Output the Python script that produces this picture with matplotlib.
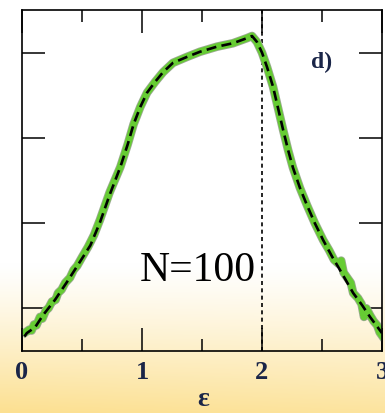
import numpy as np
import matplotlib
matplotlib.use("Agg")
import matplotlib.pyplot as plt
import matplotlib.patheffects as pe

# fitted (dashed) curve
fit_x = [0.02, 0.04, 0.11, 0.175, 0.275, 0.375, 0.48, 0.57, 0.65, 0.73, 0.82, 0.88,
         0.93, 0.985, 1.042, 1.108, 1.175, 1.258, 1.375, 1.483, 1.625, 1.758, 1.875,
         1.917, 1.958, 2.0, 2.042, 2.092, 2.175, 2.217, 2.258, 2.317, 2.375, 2.44,
         2.51, 2.583, 2.65, 2.76, 2.833, 2.90, 3.0]
fit_y = [0.17, 0.21, 0.28, 0.42, 0.60, 0.81, 1.04, 1.24, 1.51, 1.83, 2.16, 2.42,
         2.66, 2.86, 3.03, 3.155, 3.27, 3.38, 3.45, 3.51, 3.57, 3.61, 3.67,
         3.695, 3.625, 3.50, 3.33, 3.10, 2.60, 2.36, 2.15, 1.91, 1.71, 1.50,
         1.30, 1.11, 0.95, 0.68, 0.54, 0.40, 0.21]

# simulation (green) curve
sim_x = [0.03, 0.06, 0.08, 0.10, 0.12, 0.15, 0.17, 0.20, 0.22, 0.25, 0.28, 0.30, 0.33,
         0.36, 0.40, 0.43, 0.46, 0.50, 0.55, 0.60, 0.65, 0.73, 0.82, 0.88,
         0.93, 0.985, 1.042, 1.108, 1.175, 1.258, 1.375, 1.483, 1.625, 1.758, 1.875,
         1.917, 1.958, 2.0, 2.042, 2.092, 2.175, 2.217, 2.258, 2.317, 2.375, 2.44,
         2.51, 2.56, 2.60, 2.64, 2.66, 2.68, 2.71, 2.74, 2.76, 2.80, 2.83,
         2.85, 2.87, 2.90, 2.93, 2.96, 2.98, 3.00]
sim_y = [0.22, 0.25, 0.24, 0.31, 0.30, 0.40, 0.38, 0.48, 0.50, 0.58, 0.60, 0.68, 0.72,
         0.80, 0.86, 0.95, 1.00, 1.10, 1.22, 1.36, 1.54, 1.86, 2.16, 2.42,
         2.66, 2.86, 3.03, 3.155, 3.27, 3.38, 3.45, 3.51, 3.57, 3.61, 3.67,
         3.695, 3.625, 3.50, 3.33, 3.10, 2.60, 2.36, 2.15, 1.91, 1.71, 1.50,
         1.30, 1.18, 1.07, 1.02, 1.06, 0.92, 0.86, 0.80, 0.68, 0.62, 0.55,
         0.40, 0.50, 0.42, 0.35, 0.30, 0.22, 0.18]

x_ticks = [0, 1, 2, 3]
x_ticklabels = ["0", "1", "2", "3"]
x_minor = [0.5, 1.5, 2.5]
y_ticks = [0.5, 1.5, 2.5, 3.5]
eps_c = 2.0

W, H = 385, 413
fig = plt.figure(figsize=(W / 100, H / 100), dpi=100)

# gradient background (white at top, warm yellow at bottom)
bg = fig.add_axes([0, 0, 1, 1], zorder=0)
rows = np.linspace(0, 1, 200)[:, None]          # 0 = bottom, 1 = top
cols = np.linspace(0, 1, 50)[None, :]
t = np.clip((0.36 - rows) / 0.36, 0, 1) ** 1.2
tcol = t * (1.0 - 0.12 * cols)
white = np.array([1.0, 1.0, 1.0])
yellow = np.array([252, 224, 145]) / 255.0
img = white[None, None, :] * (1 - tcol[..., None]) + yellow[None, None, :] * tcol[..., None]
bg.imshow(img, aspect="auto", extent=[0, 1, 0, 1], origin="lower")
bg.set_axis_off()

ax = fig.add_axes([22 / W, (H - 351) / H, 360 / W, 341 / H], zorder=1)
ax.patch.set_alpha(0)

ax.plot(sim_x, sim_y, color="#66cc33", lw=5.0, solid_joinstyle="round",
        path_effects=[pe.Stroke(linewidth=6.2, foreground="#9aaa90"), pe.Normal()], zorder=2)
ax.plot(fit_x, fit_y, color="black", lw=1.9, dashes=(3.8, 2.0), zorder=3)
ax.axvline(eps_c, color="black", lw=1.2, dashes=(2.4, 2.0), zorder=1)

ax.set_xlim(0, 3)
ax.set_ylim(0, 4)
ax.set_xticks(x_ticks)
ax.set_xticklabels(x_ticklabels)
ax.set_xticks(x_minor, minor=True)
ax.set_yticks(y_ticks)
ax.set_yticklabels([])
ax.tick_params(which="major", direction="in", length=16.5, width=1.1,
               top=True, right=True, labelleft=False, pad=7)
ax.tick_params(which="minor", direction="in", length=8.6, width=1.1, top=True, right=False,
               left=False)
for s in ax.spines.values():
    s.set_linewidth(1.2)

for lab in ax.get_xticklabels():
    lab.set_fontfamily("Liberation Serif")
    lab.set_fontweight("bold")
    lab.set_fontsize(19)
    lab.set_color("#1a2548")

fig.text(203 / W, 1 - 399 / H, "ε", fontfamily="Liberation Serif", fontweight="bold",
         fontsize=20, color="#1a2548", ha="center", va="center")

ax.text(1.0 + (200 - 144) / 120.0, (351 - 271) / 85.25, "N=100", fontfamily="Liberation Serif",
        fontsize=30, ha="center", va="center", color="black")
ax.text((322 - 22) / 120.0, (351 - 62) / 85.25, "d)", fontfamily="Liberation Serif",
        fontweight="bold", fontsize=17, ha="center", va="center", color="#1a2548")

fig.savefig("out.png", dpi=100)
